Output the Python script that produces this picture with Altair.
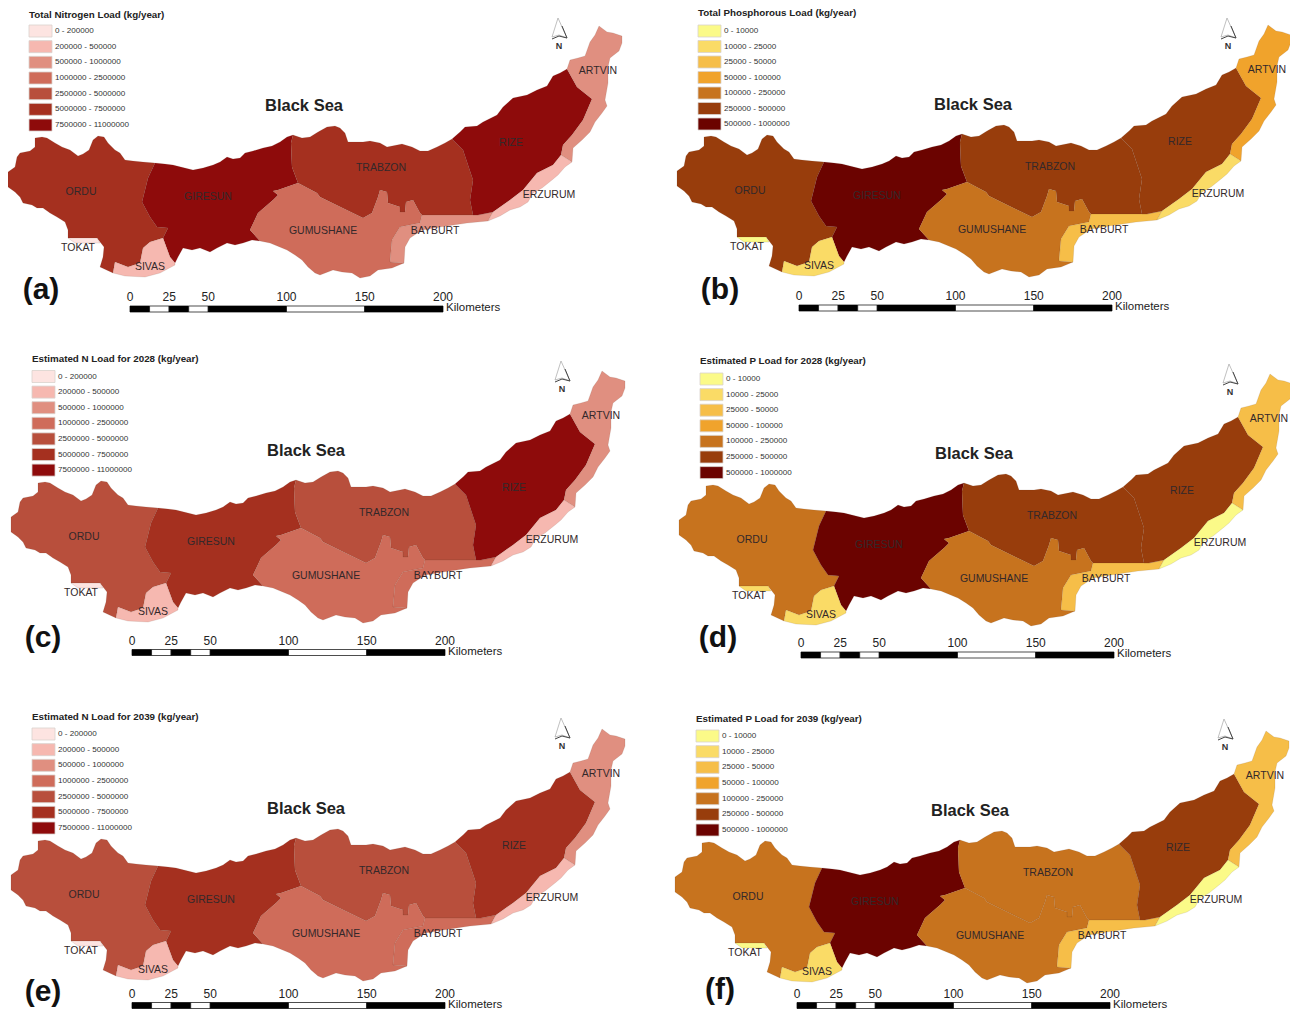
import altair as alt
import pandas as pd

# ---- region outlines, traced in the frame of panel (a) ----
COAST_ORDU = [[8,177],[8,172],[15,167],[17,157],[20,153],[30,151],[35,147],[35,138],[42,137],[47,138],[55,143],[62,147],[70,150],[78,156],[83,154],[89,150],[93,140],[98,136],[104,137],[108,143],[115,150],[120,153],[125,160],[133,161],[143,162],[155,163]]
ORDU_GIRESUN = [[155,163],[148,178],[142,202],[150,217],[157,227],[168,228],[163,238]]
ORDU_SIVAS = [[163,238],[150,242],[143,248],[140,263],[128,267],[115,262],[113,273]]
ORDU_WEST = [[113,273],[100,267],[103,257],[104,247],[97,238],[68,238],[68,230],[65,222],[57,217],[50,213],[43,208],[37,208],[32,205],[23,203],[20,197],[15,192],[8,187]]
COAST_GIRESUN = [[155,163],[165,164],[173,165],[185,168],[193,170],[203,168],[213,165],[220,162],[227,157],[233,159],[240,158],[245,153],[253,151],[263,148],[272,146],[280,142],[287,137],[293,135]]
GUMUSHANE_NW = [[260,241],[250,230],[258,213],[273,200],[278,195],[273,191],[278,190],[298,183]]
GIRESUN_SOUTH = [[163,238],[170,257],[175,263],[178,257],[183,248],[192,250],[200,248],[210,252],[217,248],[227,243],[235,245],[243,243],[252,240]] + GUMUSHANE_NW
GIRESUN_TRABZON = [[298,183],[292,167],[291,143],[293,135]]
COAST_TRABZON = [[293,135],[302,138],[310,137],[318,132],[327,127],[335,126],[340,128],[345,133],[348,142],[363,142],[370,141],[380,143],[387,147],[402,144],[412,147],[420,151],[428,151],[437,147],[445,143],[452,139]]
RIZE_WEST = [[452,139],[463,150],[473,180],[470,200],[473,215]]
COAST_RIZE = [[452,139],[460,132],[465,127],[477,126],[483,122],[497,115],[503,107],[513,98],[527,95],[537,90],[547,86],[553,76],[560,73],[567,69]]
RIZE_ARTVIN = [[567,69],[577,87],[592,99],[583,120],[572,135],[563,145],[561,155]]
RIZE_ERZURUM = [[561,155],[553,165],[537,173],[523,190],[510,200],[493,212]]
ARTVIN_OUTER = [[567,69],[570,60],[578,58],[585,56],[590,42],[595,35],[599,26],[607,32],[613,33],[622,36],[622,43],[619,51],[610,58],[608,67],[608,83],[605,100],[607,106],[602,113],[595,122],[590,132],[582,140],[573,148],[572,162]]
ERZURUM_COAST = [[572,162],[565,167],[558,175],[552,180],[542,188],[533,193],[528,202],[520,207],[510,210],[500,216],[488,221]]
BAYBURT_TOP = [[422,215],[473,215],[478,215],[493,212]]
BAYBURT_SOUTH = [[493,212],[488,221],[467,223],[440,227],[422,230],[410,238],[405,247],[404,263]]
BAYBURT_WEST = [[404,263],[390,262],[392,240],[400,227],[420,223],[422,215]]
GUMUSHANE_TOP = [[298,183],[317,193],[320,197],[363,218],[372,213],[378,197],[380,190],[387,192],[388,203],[400,207],[400,212],[405,212],[406,202],[413,200],[420,213],[422,215]]
GUMUSHANE_SOUTH = [[404,263],[392,268],[378,270],[370,276],[360,278],[352,273],[342,272],[333,270],[320,275],[315,273],[308,267],[302,260],[295,255],[287,250],[270,243],[260,241]]
SIVAS_SOUTH = [[113,273],[125,276],[145,277],[160,273],[175,265],[175,263],[170,257],[163,238]]
TOKAT = [[68,238],[97,238],[100,243],[75,243]]

REGIONS = {
    "ORDU": COAST_ORDU + ORDU_GIRESUN + ORDU_SIVAS + ORDU_WEST,
    "GIRESUN": COAST_GIRESUN + GIRESUN_TRABZON[::-1] + GIRESUN_SOUTH[::-1] + ORDU_GIRESUN[::-1],
    "TRABZON": COAST_TRABZON + RIZE_WEST + BAYBURT_TOP[:2][::-1] + GUMUSHANE_TOP[::-1] + GIRESUN_TRABZON,
    "GUMUSHANE": GUMUSHANE_TOP + BAYBURT_WEST[::-1] + GUMUSHANE_SOUTH + GUMUSHANE_NW,
    "BAYBURT": BAYBURT_TOP + BAYBURT_SOUTH + BAYBURT_WEST,
    "RIZE": COAST_RIZE + RIZE_ARTVIN + RIZE_ERZURUM + BAYBURT_TOP[::-1][:3] + RIZE_WEST[::-1],
    "ARTVIN": ARTVIN_OUTER + RIZE_ARTVIN[::-1],
    "ERZURUM": ERZURUM_COAST + BAYBURT_SOUTH[:2][::-1] + RIZE_ERZURUM[::-1] + [[572,162]],
    "SIVAS": ORDU_SIVAS + SIVAS_SOUTH,
    "TOKAT": TOKAT,
}

LABEL_NAMES = ["ORDU","GIRESUN","TRABZON","GUMUSHANE","BAYBURT","RIZE","ARTVIN","ERZURUM","TOKAT","SIVAS"]
LABEL_X = [81,208,381,323,435,511,598,549,78,150]
LABEL_Y = [192,197,168,231,231,143,71,195,248,267]

N_COLORS = ["#fde4e1","#f6b8b0","#e08f80","#cf6c5a","#b84f3c","#a5301f","#8e0b0b"]
P_COLORS = ["#fbfa88","#fadb66","#f6be48","#f0a32c","#c7731e","#983d0c","#6b0300"]
N_RANGES = ["0 - 200000","200000 - 500000","500000 - 1000000","1000000 - 2500000","2500000 - 5000000","5000000 - 7500000","7500000 - 11000000"]
P_RANGES = ["0 - 10000","10000 - 25000","25000 - 50000","50000 - 100000","100000 - 250000","250000 - 500000","500000 - 1000000"]

REGION_ORDER = ["ORDU","GIRESUN","TRABZON","GUMUSHANE","BAYBURT","RIZE","ARTVIN","ERZURUM","SIVAS","TOKAT"]
CLASS_A = [5,6,5,3,2,6,2,1,1,0]
CLASS_B = [5,6,5,4,2,5,3,1,1,0]
CLASS_C = [4,5,4,3,3,6,2,1,1,0]
CLASS_D = [4,6,5,4,2,5,2,0,1,1]
CLASS_E = [4,5,4,3,3,5,2,1,1,0]
CLASS_F = [4,6,4,4,2,5,2,0,1,0]

PANELS = [
    dict(tag="(a)", title="Total Nitrogen Load (kg/year)", classes=CLASS_A, kind="N", map=(0,0), bar=(0,0), arrow=(0,0), tagxy=(41,290), leg=(29,15,31,15.67)),
    dict(tag="(b)", title="Total Phosphorous Load (kg/year)", classes=CLASS_B, kind="P", map=(669,-1), bar=(669,-1), arrow=(669,0), tagxy=(720,290), leg=(698,13,31,15.5)),
    dict(tag="(c)", title="Estimated N Load for 2028 (kg/year)", classes=CLASS_C, kind="N", map=(3,345), bar=(2,343.5), arrow=(3,343), tagxy=(43,638), leg=(32,359,376.5,15.6)),
    dict(tag="(d)", title="Estimated P Load for 2028 (kg/year)", classes=CLASS_D, kind="P", map=(671,348), bar=(671,346), arrow=(671,346), tagxy=(718,638), leg=(700,361,379,15.6)),
    dict(tag="(e)", title="Estimated N Load for 2039 (kg/year)", classes=CLASS_E, kind="N", map=(3,703), bar=(2,696.5), arrow=(3,700), tagxy=(43,992), leg=(32,717,734,15.67)),
    dict(tag="(f)", title="Estimated P Load for 2039 (kg/year)", classes=CLASS_F, kind="P", map=(667,705), bar=(667,696.5), arrow=(666,701), tagxy=(720,990), leg=(696,719,736,15.67)),
]

BAR_KM = [0,12.5,25,37.5,50,100,150,200]
BAR_TICKS = [0,25,50,100,150,200]
KM_PX = 1.565
SEA_XY = (304,106)


def poly(points, dx=0, dy=0):
    ring = [[x + dx, y + dy] for x, y in points]
    if ring[0] != ring[-1]:
        ring.append(ring[0])
    return {"type": "Polygon", "coordinates": [ring]}


def feature(geom, fill):
    return {"type": "Feature", "geometry": geom, "properties": {"fill": fill}}


def rect(x0, y0, x1, y1):
    return poly([[x0, y0], [x1, y0], [x1, y1], [x0, y1]])


map_feats, swatch_feats, bar_feats, arrow_feats, arc_feats = [], [], [], [], []
region_txt, legend_txt, title_txt, tick_txt, km_txt, tag_txt, sea_txt, n_txt = [], [], [], [], [], [], [], []

for p in PANELS:
    colors = N_COLORS if p["kind"] == "N" else P_COLORS
    ranges = N_RANGES if p["kind"] == "N" else P_RANGES
    mx, my = p["map"]
    for name, c in zip(REGION_ORDER, p["classes"]):
        map_feats.append(feature(poly(REGIONS[name], mx, my), colors[c]))
    for name, x, y in zip(LABEL_NAMES, LABEL_X, LABEL_Y):
        region_txt.append({"x": x + mx, "y": y + my, "t": name})
    sea_txt.append({"x": SEA_XY[0] + mx - (1 if my > 0 else 0), "y": SEA_XY[1] + my, "t": "Black Sea"})

    lx, ty, y0, step = p["leg"]
    title_txt.append({"x": lx, "y": ty, "t": p["title"]})
    for i, (col, lab) in enumerate(zip(colors, ranges)):
        yc = y0 + i * step
        swatch_feats.append(feature(rect(lx, yc - 6, lx + 23, yc + 6), col))
        legend_txt.append({"x": lx + 26, "y": yc, "t": lab})

    bx, by = p["bar"]
    for i in range(len(BAR_KM) - 1):
        fill = "#000000" if i % 2 == 0 else "#ffffff"
        x0 = 130 + bx + BAR_KM[i] * KM_PX
        x1 = 130 + bx + BAR_KM[i + 1] * KM_PX
        bar_feats.append(feature(rect(x0, 306 + by, x1, 312 + by), fill))
    for km in BAR_TICKS:
        tick_txt.append({"x": 130 + bx + km * KM_PX, "y": 297 + by, "t": str(km)})
    km_txt.append({"x": 446 + bx, "y": 308 + by, "t": "Kilometers"})

    ax, ay = p["arrow"]
    arrow_feats.append(feature(poly([[558 + ax, 18 + ay], [552 + ax, 37 + ay], [559 + ax, 35 + ay], [567 + ax, 38 + ay]]), "#ffffff"))
    arc_feats.append(feature({"type": "LineString", "coordinates": [[552 + ax, 39 + ay], [559 + ax, 36 + ay], [567 + ax, 38 + ay], [562 + ax, 26 + ay]]}, "#333333"))
    n_txt.append({"x": 559 + ax, "y": 46 + ay, "t": "N"})
    tag_txt.append({"x": p["tagxy"][0], "y": p["tagxy"][1], "t": p["tag"]})

PROJ = dict(type="identity", scale=1, translate=[-8, -8])
FONT = "Liberation Sans"


def shapes(feats, **mark):
    return (
        alt.Chart(alt.Data(values=feats))
        .mark_geoshape(**mark)
        .encode(fill=alt.Fill("properties.fill:N", scale=None, legend=None))
        .project(**PROJ)
    )


def texts(rows, **mark):
    return (
        alt.Chart(pd.DataFrame(rows))
        .mark_text(font=FONT, baseline="middle", **mark)
        .encode(longitude="x:Q", latitude="y:Q", text="t:N")
        .project(**PROJ)
    )


lines = (
    alt.Chart(alt.Data(values=arc_feats))
    .mark_geoshape(filled=False, stroke="#444444", strokeWidth=1.0)
    .project(**PROJ)
)

chart = alt.layer(
    shapes(map_feats, stroke="#5a3a2a", strokeWidth=0.4, strokeOpacity=0.3),
    shapes(swatch_feats, stroke="#d9d2cd", strokeWidth=0.8),
    shapes(bar_feats, stroke="#000000", strokeWidth=0.7),
    shapes(arrow_feats, stroke="#a5a5a5", strokeWidth=0.7),
    lines,
    texts(region_txt, fontSize=10.5, align="center", color="#33282a"),
    texts(sea_txt, fontSize=16.5, fontWeight="bold", align="center", color="#222222"),
    texts(title_txt, fontSize=9.8, fontWeight="bold", align="left", color="#222222"),
    texts(legend_txt, fontSize=8.1, align="left", color="#333333"),
    texts(tick_txt, fontSize=12, align="center", color="#222222"),
    texts(km_txt, fontSize=11.5, align="left", color="#222222"),
    texts(n_txt, fontSize=9, fontWeight="bold", align="center", color="#333333"),
    texts(tag_txt, fontSize=30, fontWeight="bold", align="center", color="#111111"),
).properties(width=1282, height=1001, padding=0).configure_view(stroke=None)

chart.save("out.html", embed_options={"renderer": "svg", "actions": False})
